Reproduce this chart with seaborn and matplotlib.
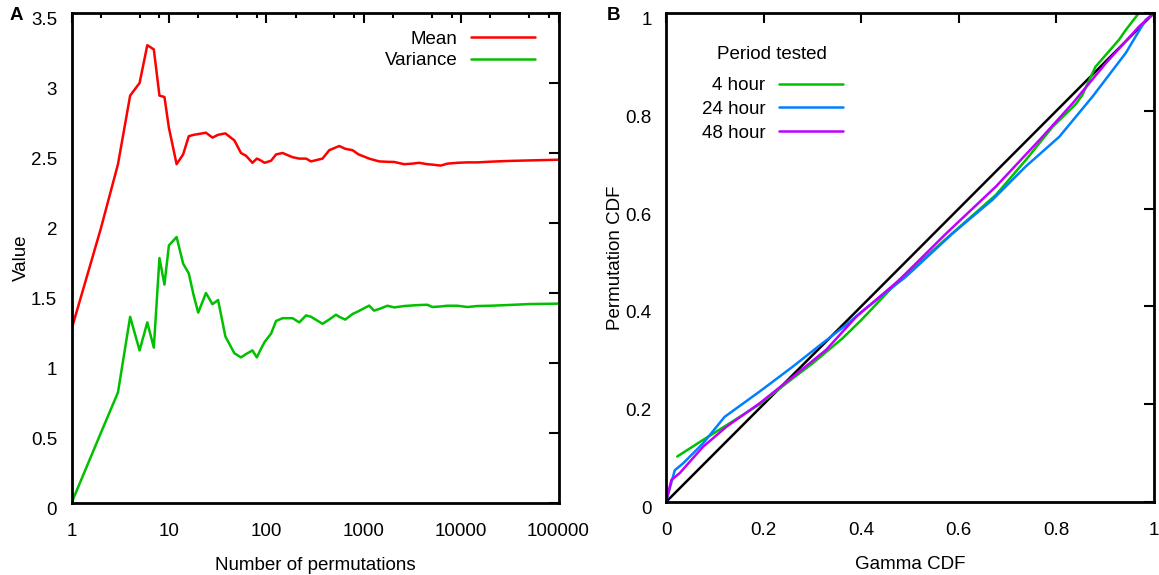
import numpy as np
import pandas as pd
import matplotlib
matplotlib.use("Agg")
import matplotlib.pyplot as plt
import seaborn as sns
from matplotlib.lines import Line2D
from matplotlib.ticker import NullFormatter
from matplotlib.transforms import ScaledTranslation

# ---------------- Panel A data ----------------
n_perm = [1, 2, 3, 4, 5, 6, 7, 8, 9, 10, 12, 14, 16, 18, 20, 24, 28, 32, 38, 47,
          55, 62, 72, 80, 86, 96, 112, 126, 147, 186, 218, 256, 288, 378, 443,
          519, 561, 646, 768, 885, 1137, 1278, 1443, 1754, 2054, 2598, 3162,
          3700, 4505, 5070, 6170, 7220, 9140, 11600, 14700, 20000, 30000,
          50000, 100000]
mean_vals = [1.24, 1.96, 2.42, 2.91, 3.00, 3.27, 3.24, 2.91, 2.90, 2.68, 2.42,
             2.49, 2.62, 2.63, 2.635, 2.645, 2.61, 2.63, 2.64, 2.59, 2.50, 2.48,
             2.43, 2.46, 2.45, 2.43, 2.445, 2.49, 2.50, 2.47, 2.46, 2.46, 2.44,
             2.46, 2.52, 2.54, 2.55, 2.53, 2.52, 2.49, 2.46, 2.45, 2.44, 2.437,
             2.436, 2.42, 2.424, 2.43, 2.42, 2.417, 2.41, 2.424, 2.43, 2.433,
             2.433, 2.438, 2.443, 2.447, 2.452]
var_vals = [0.0, 0.50, 0.79, 1.33, 1.09, 1.29, 1.11, 1.75, 1.56, 1.84, 1.90,
            1.71, 1.64, 1.48, 1.36, 1.50, 1.42, 1.45, 1.19, 1.07, 1.04, 1.064,
            1.09, 1.04, 1.086, 1.15, 1.21, 1.30, 1.32, 1.32, 1.29, 1.34, 1.33,
            1.28, 1.311, 1.345, 1.33, 1.31, 1.35, 1.37, 1.41, 1.374, 1.386,
            1.409, 1.397, 1.407, 1.411, 1.414, 1.416, 1.40, 1.404, 1.409,
            1.409, 1.40, 1.407, 1.409, 1.414, 1.421, 1.424]
stat_names = ["Mean", "Variance"]

x_major_A = [1, 10, 100, 1000, 10000, 100000]
x_major_labels_A = ["1", "10", "100", "1000", "10000", "100000"]
x_minor_A = [2, 5, 8, 20, 50, 80, 200, 500, 800, 2000, 5000, 8000,
             20000, 50000, 80000]
y_ticks_A = [0, 0.5, 1, 1.5, 2, 2.5, 3, 3.5]
y_labels_A = ["0", "0.5", "1", "1.5", "2", "2.5", "3", "3.5"]

# ---------------- Panel B data ----------------
gamma_4h = [0.023, 0.076, 0.124, 0.192, 0.247, 0.301, 0.362, 0.40, 0.478, 0.56,
            0.676, 0.737, 0.792, 0.84, 0.853, 0.88, 0.928, 0.942, 0.969, 1.0]
perm_4h = [0.093, 0.127, 0.157, 0.200, 0.243, 0.284, 0.335, 0.372, 0.454, 0.526,
           0.628, 0.699, 0.767, 0.814, 0.832, 0.89, 0.945, 0.965, 1.0, 1.0]
gamma_24h = [0.0, 0.018, 0.035, 0.076, 0.12, 0.192, 0.26, 0.321, 0.369, 0.397,
             0.492, 0.587, 0.669, 0.737, 0.806, 0.874, 0.942, 0.983, 1.0]
perm_24h = [0.0, 0.065, 0.079, 0.12, 0.174, 0.226, 0.277, 0.325, 0.362, 0.386,
            0.461, 0.549, 0.618, 0.686, 0.747, 0.829, 0.918, 0.986, 1.0]
gamma_48h = [0.0, 0.011, 0.028, 0.076, 0.124, 0.192, 0.26, 0.328, 0.39, 0.478,
             0.574, 0.676, 0.765, 0.833, 0.901, 0.969, 1.0]
perm_48h = [0.0, 0.045, 0.059, 0.113, 0.154, 0.202, 0.256, 0.311, 0.379, 0.454,
            0.549, 0.645, 0.740, 0.815, 0.897, 0.972, 1.0]
period_names = ["4 hour", "24 hour", "48 hour"]
diag_x = [0, 1]
diag_y = [0, 1]

ticks_B = [0, 0.2, 0.4, 0.6, 0.8, 1]
labels_B = ["0", "0.2", "0.4", "0.6", "0.8", "1"]

# ---------------- styling ----------------
sns.set_style("white")
plt.rcParams["font.family"] = ["Liberation Sans", "DejaVu Sans"]
plt.rcParams["font.size"] = 13.5
plt.rcParams["text.color"] = "black"
plt.rcParams["axes.labelcolor"] = "black"
plt.rcParams["xtick.color"] = "black"
plt.rcParams["ytick.color"] = "black"

colors_A = {"Mean": "#ff0000", "Variance": "#00c000"}
colors_B = {"4 hour": "#00c000", "24 hour": "#0080ff", "48 hour": "#c000ff"}

fig = plt.figure(figsize=(11.59, 5.75), dpi=100)
axA = fig.add_axes([71.5 / 1159, 72 / 575, 487 / 1159, 490 / 575])
axB = fig.add_axes([666 / 1159, 73 / 575, 488 / 1159, 489 / 575])

# Panel A
dfA = pd.DataFrame({
    "n": n_perm * 2,
    "value": mean_vals + var_vals,
    "stat": [stat_names[0]] * len(n_perm) + [stat_names[1]] * len(n_perm),
})
sns.lineplot(data=dfA, x="n", y="value", hue="stat", palette=colors_A,
             estimator=None, legend=False, linewidth=1.8, ax=axA)
axA.set_xscale("log")
axA.set_xlim(1, 100000)
axA.set_ylim(0, 3.5)
axA.set_xticks(x_major_A)
axA.set_xticklabels(x_major_labels_A)
axA.set_xticks(x_minor_A, minor=True)
axA.xaxis.set_minor_formatter(NullFormatter())
axA.set_yticks(y_ticks_A)
axA.set_yticklabels(y_labels_A)
axA.set_xlabel("Number of permutations", labelpad=12, color="black")
axA.set_ylabel("Value", labelpad=1, color="black")

handlesA = [Line2D([], [], color=colors_A[s], lw=1.8) for s in stat_names]
axA.legend(handlesA, stat_names, loc="upper right",
           bbox_to_anchor=(0.952, 0.964), frameon=False, markerfirst=False,
           handlelength=3.4, handletextpad=0.75, labelspacing=0.23,
           borderpad=0, borderaxespad=0, labelcolor="black")

# Panel B
dfB = pd.DataFrame({
    "gamma": gamma_4h + gamma_24h + gamma_48h,
    "perm": perm_4h + perm_24h + perm_48h,
    "period": [period_names[0]] * len(gamma_4h) + [period_names[1]] * len(gamma_24h)
              + [period_names[2]] * len(gamma_48h),
})
sns.lineplot(x=diag_x, y=diag_y, color="black", linewidth=1.8, ax=axB)
sns.lineplot(data=dfB, x="gamma", y="perm", hue="period", palette=colors_B,
             hue_order=period_names, estimator=None, sort=False, legend=False,
             linewidth=1.8, ax=axB)
axB.set_xlim(0, 1)
axB.set_ylim(0, 1)
axB.set_xticks(ticks_B)
axB.set_xticklabels(labels_B)
axB.set_yticks(ticks_B)
axB.set_yticklabels(labels_B)
axB.set_xlabel("Gamma CDF", labelpad=12, color="black")
axB.set_ylabel("Permutation CDF", labelpad=1, color="black")

handlesB = [Line2D([], [], color=colors_B[p], lw=1.8) for p in period_names]
axB.legend(handlesB, period_names, loc="upper right",
           bbox_to_anchor=(0.363, 0.869), frameon=False, markerfirst=False,
           handlelength=3.4, handletextpad=0.75, labelspacing=0.36,
           borderpad=0, borderaxespad=0, labelcolor="black")
axB.text(0.217, 0.915, "Period tested", ha="center", va="center",
         transform=axB.transAxes, color="black")

for ax in (axA, axB):
    for sp in ax.spines.values():
        sp.set_visible(True)
        sp.set_color("black")
        sp.set_linewidth(2.0)
    ax.tick_params(which="both", direction="in", top=True, right=True,
                   color="black", width=1.5, labelcolor="black")
    ax.tick_params(which="major", length=7)
    ax.tick_params(which="minor", length=3.5)
    ax.tick_params(axis="x", which="both", pad=14.5)
    ax.tick_params(axis="y", which="both", pad=10.3)
    ax.grid(False)
    for lbl in ax.get_yticklabels():
        lbl.set_transform(lbl.get_transform()
                          + ScaledTranslation(0, -4 / 72, fig.dpi_scale_trans))

fig.text(10 / 1159, 1 - 15 / 575, "A", fontweight="bold", ha="left",
         va="center", color="black")
fig.text(607 / 1159, 1 - 15 / 575, "B", fontweight="bold", ha="left",
         va="center", color="black")

fig.savefig("out.png", dpi=100)
